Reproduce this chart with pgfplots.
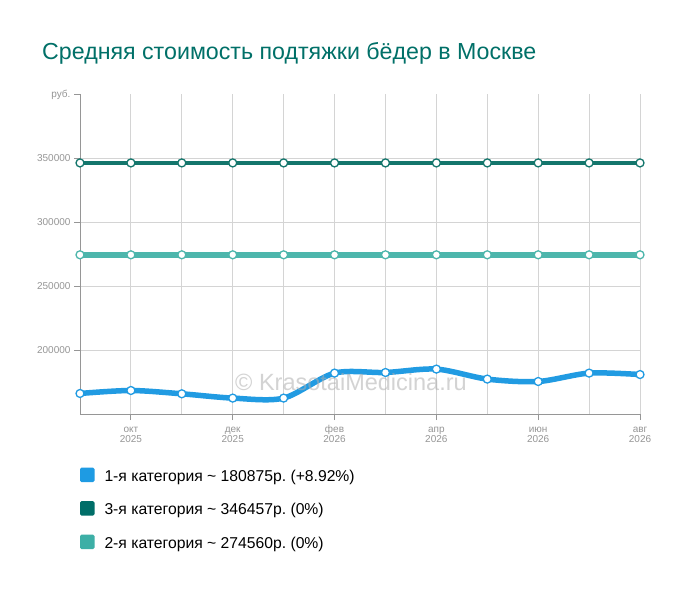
\documentclass[border=0pt]{standalone}
\usepackage{pgfplots}
\pgfplotsset{compat=1.18}
\usepackage{fontspec}
\setmainfont{Liberation Sans}
\frenchspacing
\definecolor{c1}{RGB}{33,155,226}
\definecolor{c3}{RGB}{20,118,108}
\definecolor{c2}{RGB}{77,182,172}
\definecolor{l1}{RGB}{30,155,227}
\definecolor{l3}{RGB}{0,110,104}
\definecolor{l2}{RGB}{61,175,166}
\definecolor{titlec}{RGB}{0,112,104}
\definecolor{axc}{RGB}{150,150,150}
\definecolor{gridc}{RGB}{212,212,212}
\definecolor{tickc}{RGB}{150,150,150}
\begin{document}
\begin{tikzpicture}[x=1pt,y=1pt]
\useasboundingbox[fill=white] (0,0) rectangle (700,591);
\node[anchor=base west, inner sep=0pt, text=titlec, font=\fontsize{23.2}{27}\selectfont] at (42,531.7) {Средняя стоимость подтяжки бёдер в Москве};
\begin{axis}[
  at={(80pt,177pt)}, anchor=south west,
  scale only axis, width=560pt, height=319.5pt,
  xmin=0, xmax=11, ymin=150000, ymax=400000,
  clip=false,
  scaled y ticks=false,
  axis lines=left,
  axis line style={draw=axc, line width=1pt, -},
  xtick={1,3,5,7,9,11},
  xticklabels={\vphantom{ф}окт\\2025, \vphantom{ф}дек\\2025, \vphantom{ф}фев\\2026, \vphantom{ф}апр\\2026, \vphantom{ф}июн\\2026, \vphantom{ф}авг\\2026},
  x tick label style={align=center, font=\fontsize{10}{10.2}\selectfont, text=tickc, yshift=-1.5pt},
  minor xtick={0,2,4,6,8,10},
  ytick={200000,250000,300000,350000},
  yticklabels={200000,250000,300000,350000},
  extra y ticks={400000}, extra y tick labels={руб.},
  extra y tick style={grid=none},
  y tick label style={font=\fontsize{10}{12}\selectfont, text=tickc},
  xmajorgrids, xminorgrids, ymajorgrids,
  grid style={draw=gridc, line width=0.9pt},
  minor grid style={draw=gridc, line width=0.9pt},
  tick align=outside,
  major tick length=6pt, minor tick length=0pt,
  tick style={draw=axc, line width=1pt},
  legend cell align=left,
  legend style={at={(axis description cs:0,0)}, anchor=north west, yshift=-53.7pt,
    draw=none, fill=none, inner sep=0pt, outer sep=0pt,
    font=\fontsize{15.7}{19}\selectfont, row sep=18.5pt,
    nodes={inner sep=0pt, outer sep=0pt},
    /tikz/every odd column/.append style={column sep=10pt}},
]
\addplot[c1, line width=5.5pt, smooth, mark=*,
  mark options={solid, fill=white, draw=c1, line width=1.3pt, mark size=4pt},
  legend image code/.code={\path[fill=l1, draw=none, rounded corners=1.5pt] (0pt,-6pt) rectangle (14.5pt,8.5pt);}]
  coordinates {(0,166062) (1,168387) (2,165805) (3,162440) (4,162440) (5,182002)
               (6,182472) (7,185132) (8,177307) (9,175429) (10,182002) (11,180875)};
\addlegendentry{1-я категория \textasciitilde{} 180875р. (+8.92\%)}
\addplot[c3, line width=4.7pt, mark=*,
  mark options={solid, fill=white, draw=c3, line width=1.3pt, mark size=4pt},
  legend image code/.code={\path[fill=l3, draw=none, rounded corners=1.5pt] (0pt,-6pt) rectangle (14.5pt,8.5pt);}]
  coordinates {(0,346457) (1,346457) (2,346457) (3,346457) (4,346457) (5,346457)
               (6,346457) (7,346457) (8,346457) (9,346457) (10,346457) (11,346457)};
\addlegendentry{3-я категория \textasciitilde{} 346457р. (0\%)}
\addplot[c2, line width=6pt, mark=*,
  mark options={solid, fill=white, draw=c2, line width=1.3pt, mark size=4pt},
  legend image code/.code={\path[fill=l2, draw=none, rounded corners=1.5pt] (0pt,-6pt) rectangle (14.5pt,8.5pt);}]
  coordinates {(0,274560) (1,274560) (2,274560) (3,274560) (4,274560) (5,274560)
               (6,274560) (7,274560) (8,274560) (9,274560) (10,274560) (11,274560)};
\addlegendentry{2-я категория \textasciitilde{} 274560р. (0\%)}
\node[anchor=base west, inner sep=0pt, text={rgb,255:red,175;green,175;blue,175}, opacity=0.55,
  font=\fontsize{23.5}{27}\selectfont] at (axis cs:3.045,168150) {© KrasotaiMedicina.ru};
\end{axis}
\end{tikzpicture}
\end{document}
